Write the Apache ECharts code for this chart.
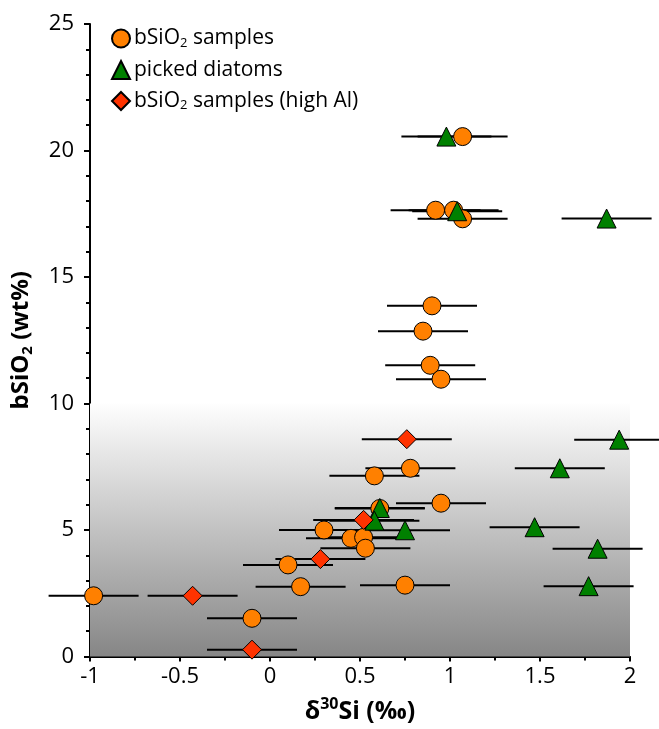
<!DOCTYPE html>
<html>
<head>
<meta charset="utf-8">
<script src="https://cdn.jsdelivr.net/npm/echarts@6/dist/echarts.min.js"></script>
<style>
  html, body { margin: 0; padding: 0; background: #fff; }
  #chart { width: 659px; height: 729px; }
</style>
</head>
<body>
<div id="chart"></div>
<script>
// bSiO2 samples (circles)
var sampleX = [1.07, 0.92, 1.02, 1.07, 0.90, 0.85, 0.89, 0.95, 0.78, 0.58, 0.95, 0.61, 0.30, 0.45, 0.52, 0.53, 0.10, 0.17, 0.75, -0.10, -0.98];
var sampleY = [20.55, 17.64, 17.64, 17.30, 13.86, 12.86, 11.51, 10.96, 7.44, 7.14, 6.06, 5.85, 5.00, 4.67, 4.71, 4.28, 3.62, 2.76, 2.82, 1.51, 2.40];
var sampleErr = [0.25, 0.25, 0.25, 0.25, 0.25, 0.25, 0.25, 0.25, 0.25, 0.25, 0.25, 0.25, 0.25, 0.25, 0.25, 0.25, 0.25, 0.25, 0.25, 0.25, 0.25];
// picked diatoms (triangles)
var diatomX = [0.98, 1.04, 1.87, 1.94, 1.61, 0.61, 0.58, 0.75, 1.47, 1.82, 1.77];
var diatomY = [20.55, 17.60, 17.31, 8.57, 7.44, 5.87, 5.37, 4.99, 5.11, 4.26, 2.78];
var diatomErr = [0.25, 0.25, 0.25, 0.25, 0.25, 0.25, 0.25, 0.25, 0.25, 0.25, 0.25];
// bSiO2 samples, high Al (diamonds)
var highAlX = [0.76, 0.52, 0.28, -0.43, -0.10];
var highAlY = [8.59, 5.40, 3.85, 2.40, 0.27];
var highAlErr = [0.25, 0.28, 0.25, 0.25, 0.25];

var names = ['bSiO2 samples', 'picked diatoms', 'bSiO2 samples (high Al)'];
var shadedY = [0, 10];

var font = 'Open Sans';

function pts(xs, ys) {
  return xs.map(function (x, i) { return [x, ys[i]]; });
}
function errPts(xs, ys, es) {
  return xs.map(function (x, i) { return [x, ys[i], es[i]]; });
}
function richName(name) {
  if (name.indexOf('bSiO2') === 0) {
    return '{t|bSiO}{s|2}{t|' + name.slice(5) + '}';
  }
  return '{t|' + name + '}';
}

function errorBars(data) {
  return {
    type: 'custom',
    silent: true,
    z: 2,
    data: data,
    renderItem: function (params, api) {
      var x = api.value(0), y = api.value(1), e = api.value(2);
      var a = api.coord([x - e, y]);
      var b = api.coord([x + e, y]);
      return {
        type: 'line',
        shape: { x1: a[0], y1: a[1], x2: b[0], y2: b[1] },
        style: { stroke: '#000', lineWidth: 2 }
      };
    }
  };
}

var chart = echarts.init(document.getElementById('chart'));
chart.setOption({
  animation: false,
  grid: { left: 90, right: 29, top: 24, bottom: 71 },
  legend: {
    data: names,
    orient: 'vertical',
    left: 106,
    top: 23,
    itemWidth: 18,
    itemHeight: 18,
    itemGap: 10,
    formatter: richName,
    textStyle: {
      padding: [0, 0, 0, -1],
      rich: {
        t: { fontFamily: font, fontSize: 21, color: '#000', lineHeight: 22 },
        s: { fontFamily: font, fontSize: 13, color: '#000', lineHeight: 12, verticalAlign: 'bottom' }
      }
    }
  },
  xAxis: {
    type: 'value',
    min: -1,
    max: 2,
    interval: 0.5,
    name: '{t|δ}{u|30}{t|Si (‰)}',
    nameLocation: 'middle',
    nameGap: 40,
    nameTextStyle: {
      rich: {
        t: { fontFamily: font, fontSize: 25, fontWeight: 'bold', color: '#000', lineHeight: 30 },
        u: { fontFamily: font, fontSize: 16, fontWeight: 'bold', color: '#000', lineHeight: 16, verticalAlign: 'top' }
      }
    },
    axisLine: { lineStyle: { color: '#000', width: 2 } },
    axisTick: { length: 5, lineStyle: { color: '#000', width: 2 } },
    minorTick: { show: true, splitNumber: 2, length: 4, lineStyle: { color: '#000', width: 2 } },
    axisLabel: { fontFamily: font, fontSize: 22, color: '#000', margin: 9 },
    splitLine: { show: false }
  },
  yAxis: {
    type: 'value',
    min: 0,
    max: 25,
    interval: 5,
    name: '{t|bSiO}{s|2}{t| (wt%)}',
    nameLocation: 'middle',
    nameGap: 55,
    nameTextStyle: {
      rich: {
        t: { fontFamily: font, fontSize: 24, fontWeight: 'bold', color: '#000', lineHeight: 28 },
        s: { fontFamily: font, fontSize: 15, fontWeight: 'bold', color: '#000', lineHeight: 15, verticalAlign: 'bottom' }
      }
    },
    axisLine: { show: true, onZero: false, lineStyle: { color: '#000', width: 2 } },
    axisTick: { length: 6, lineStyle: { color: '#000', width: 2 } },
    minorTick: { show: true, splitNumber: 5, length: 4, lineStyle: { color: '#000', width: 2 } },
    axisLabel: { fontFamily: font, fontSize: 22, color: '#000', margin: 16 },
    splitLine: { show: false }
  },
  series: [
    {
      type: 'line',
      data: [],
      silent: true,
      z: 1,
      markArea: {
        silent: true,
        itemStyle: {
          color: new echarts.graphic.LinearGradient(0, 0, 0, 1, [
            { offset: 0, color: '#fefefe' },
            { offset: 1, color: '#868686' }
          ])
        },
        data: [[{ coord: [-1, shadedY[1]] }, { coord: [2, shadedY[0]] }]]
      }
    },
    errorBars(errPts(sampleX, sampleY, sampleErr)),
    errorBars(errPts(diatomX, diatomY, diatomErr)),
    errorBars(errPts(highAlX, highAlY, highAlErr)),
    {
      name: names[0],
      type: 'scatter',
      z: 3,
      symbol: 'circle',
      symbolSize: 18,
      itemStyle: { color: '#ff8000', borderColor: '#000', borderWidth: 1, opacity: 1 },
      data: pts(sampleX, sampleY)
    },
    {
      name: names[1],
      type: 'scatter',
      z: 4,
      symbol: 'triangle',
      symbolSize: 19,
      itemStyle: { color: '#008000', borderColor: '#000', borderWidth: 1, opacity: 1 },
      data: pts(diatomX, diatomY)
    },
    {
      name: names[2],
      type: 'scatter',
      z: 5,
      symbol: 'diamond',
      symbolSize: 19,
      itemStyle: { color: '#ff3300', borderColor: '#000', borderWidth: 1, opacity: 1 },
      data: pts(highAlX, highAlY)
    }
  ]
});
</script>
</body>
</html>
